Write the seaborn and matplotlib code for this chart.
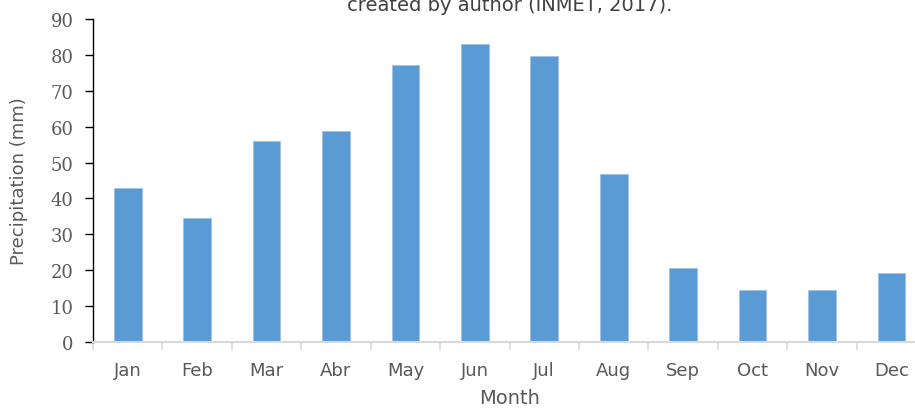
import matplotlib
matplotlib.use("Agg")
import matplotlib.pyplot as plt
import seaborn as sns
import pandas as pd
import numpy as np
from matplotlib.ticker import FixedLocator

months = ["Jan", "Feb", "Mar", "Abr", "May", "Jun", "Jul", "Aug", "Sep", "Oct", "Nov", "Dec"]
precip = [43.0, 34.6, 56.1, 58.8, 77.2, 83.0, 79.7, 46.9, 20.6, 14.6, 14.6, 19.2]
yticks = [0, 10, 20, 30, 40, 50, 60, 70, 80, 90]

sns.set_style("white")
plt.rcParams['font.family'] = ['DejaVu Sans']

df = pd.DataFrame({"Month": months, "Precipitation": precip})

fig = plt.figure(figsize=(9.15, 4.10), dpi=100)
ax = fig.add_axes([93/915, 67/410, 1 - 93/915, (343-20)/410])

sns.barplot(data=df, x="Month", y="Precipitation", color="#5B9BD5", width=0.4,
            edgecolor="#9DC3E6", linewidth=0.6, ax=ax, saturation=1)

ax.set_xlim(-0.5, 11.34)
ax.set_ylim(0, 90)
ax.set_yticks(yticks)
ax.set_yticklabels([str(v) for v in yticks], fontsize=13, color="#595959", family="DejaVu Serif")

for s in ["top", "right"]:
    ax.spines[s].set_visible(False)
ax.spines["left"].set_color("black")
ax.spines["left"].set_linewidth(1.0)
ax.spines["bottom"].set_color("#D9D9D9")
ax.spines["bottom"].set_linewidth(1.5)

ax.tick_params(axis="y", which="major", direction="out", length=6, width=1, color="black", left=True, pad=8)
ax.tick_params(axis="x", which="major", length=0, pad=14)
ax.xaxis.set_minor_locator(FixedLocator(np.arange(-0.5, 11.6, 1.0)))
ax.tick_params(axis="x", which="minor", direction="out", length=6, width=1.2, color="#D9D9D9", bottom=True)
for lbl in ax.get_xticklabels():
    lbl.set_fontsize(13)
    lbl.set_color("#595959")
    lbl.set_fontweight("medium")

ax.set_xlabel("Month", fontsize=14, color="#595959")
ax.set_ylabel("Precipitation (mm)", fontsize=13, color="#595959")
ax.xaxis.set_label_coords((510-93)/(915-93), -46/323)
ax.yaxis.set_label_coords(-65/822, 0.5)

fig.text(510/915, 1.0 + 4/410, "created by author (INMET, 2017).", ha="center", va="top",
         fontsize=14, color="#404040")

fig.savefig("out.png", dpi=100)
